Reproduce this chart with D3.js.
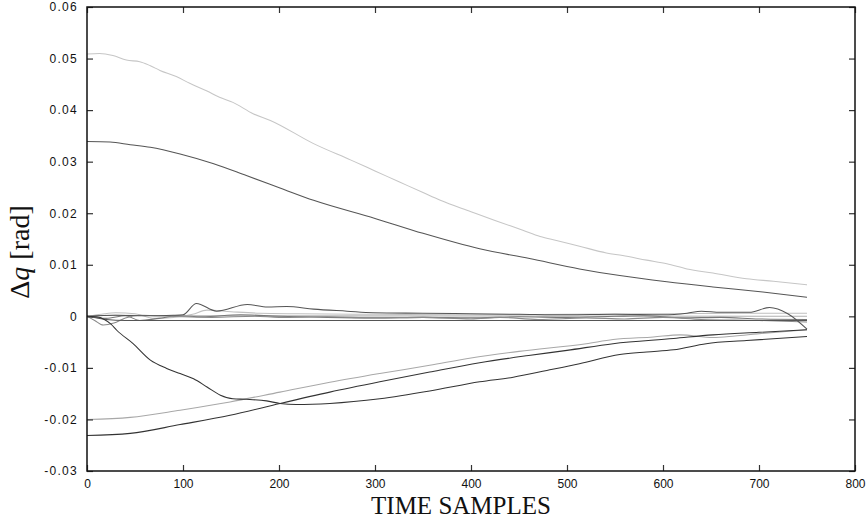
<!DOCTYPE html>
<html>
<head>
<meta charset="utf-8">
<script src="https://cdn.jsdelivr.net/npm/d3@7"></script>
<style>
  html, body { margin: 0; padding: 0; background: #fff; }
  svg { display: block; }
</style>
</head>
<body>
<svg id="chart" width="868" height="521"></svg>
<script>
// ---- data (sample index, joint error in rad) ----
const xTicks = [0, 100, 200, 300, 400, 500, 600, 700, 800];
const yTicks = [-0.03, -0.02, -0.01, 0, 0.01, 0.02, 0.03, 0.04, 0.05, 0.06];

const lightTop = [[0,0.0509],[13,0.0510],[27,0.0506],[41,0.0497],[55,0.0494],[66,0.0486],[76,0.0477],[93,0.0465],[107,0.0452],[125,0.0437],[138,0.0425],[152,0.0415],[173,0.0393],[191,0.0380],[236,0.0335],[275,0.0303],[300,0.0282],[325,0.0261],[350,0.0240],[368,0.0225],[400,0.0203],[425,0.0186],[454,0.0167],[472,0.0155],[489,0.0147],[513,0.0136],[541,0.0123],[558,0.0118],[583,0.0109],[604,0.0102],[625,0.0092],[652,0.0084],[687,0.0073],[715,0.0068],[750,0.0061]];
const darkTop = [[0,0.0339],[24,0.0338],[45,0.0333],[66,0.0328],[97,0.0315],[132,0.0296],[166,0.0273],[201,0.0249],[236,0.0225],[300,0.0190],[350,0.0161],[409,0.0131],[461,0.0112],[513,0.0092],[555,0.0079],[604,0.0067],[652,0.0057],[704,0.0047],[750,0.0037]];
const lightBottom = [[0,-0.0200],[45,-0.0196],[97,-0.0182],[149,-0.0166],[201,-0.0147],[253,-0.0128],[305,-0.0111],[357,-0.0095],[400,-0.0081],[450,-0.0068],[520,-0.0053],[548,-0.0045],[590,-0.0040],[618,-0.0036],[652,-0.0041],[675,-0.0038],[698,-0.0034],[750,-0.0026]];
const darkBottom = [[0,-0.0231],[45,-0.0227],[97,-0.0210],[149,-0.0192],[201,-0.0169],[253,-0.0147],[305,-0.0127],[357,-0.0108],[409,-0.0090],[460,-0.0076],[500,-0.0066],[548,-0.0053],[611,-0.0043],[652,-0.0036],[700,-0.0031],[750,-0.0026]];
const plunge = [[0,0],[10,-0.0001],[18,-0.0006],[25,-0.0015],[31,-0.0027],[48,-0.0053],[66,-0.0085],[83,-0.0101],[97,-0.0111],[111,-0.0121],[125,-0.0137],[139,-0.0153],[152,-0.0160],[166,-0.0161],[187,-0.0164],[201,-0.0169],[218,-0.0171],[253,-0.0169],[305,-0.0160],[357,-0.0145],[409,-0.0127],[444,-0.0118],[479,-0.0105],[513,-0.0092],[555,-0.0074],[583,-0.0069],[611,-0.0065],[645,-0.0053],[687,-0.0047],[750,-0.0039]];
const z1 = [[0,0],[30,0.0002],[60,0.0001],[90,0.0002],[100,0.0003],[114,0.0025],[135,0.0010],[167,0.0023],[188,0.0018],[208,0.0019],[236,0.0014],[271,0.0010],[298,0.0007],[350,0.0006],[400,0.0005],[450,0.0004],[500,0.0003],[550,0.0004],[600,0.0003],[625,0.0006],[640,0.0010],[660,0.0008],[690,0.0008],[711,0.0017],[730,0.0005],[750,-0.0025]];
const z2 = [[0,0],[8,-0.0008],[17,-0.0017],[28,-0.0013],[40,-0.0003],[55,0.0002],[75,0.0001],[100,-0.0001],[130,-0.0002],[175,0],[200,-0.0002],[250,-0.0001],[300,-0.0003],[350,-0.0002],[400,-0.0005],[430,-0.0002],[470,-0.0006],[520,-0.0003],[560,-0.0005],[600,-0.0002],[640,-0.0006],[700,-0.0008],[750,-0.0011]];
const z3 = [[0,0],[15,0.0004],[30,0.0007],[50,0.0005],[70,-0.0004],[90,-0.0002],[110,0.0004],[125,0.0012],[150,0.0009],[180,0.0006],[220,0.0005],[300,0.0004],[400,0.0003],[500,0.0004],[600,0.0005],[700,0.0006],[750,0.0006]];
const z4 = [[0,0],[20,-0.0004],[40,0.0001],[55,-0.0008],[75,-0.0004],[95,0.0001],[120,-0.0001],[160,0.0003],[200,0],[250,-0.0002],[300,-0.0003],[350,-0.0002],[400,-0.0003],[450,-0.0001],[500,-0.0002],[550,0],[580,0.0001],[620,-0.0003],[660,-0.0002],[700,-0.0005],[750,-0.0006]];
const z5 = [[0,0],[20,-0.0006],[40,-0.0008],[750,-0.0008]];
const z6 = [[0,0],[30,0.0002],[100,0.0001],[750,0.0]];

const series = [
  { data: lightTop,    color: "#c6c6c6" },
  { data: lightBottom, color: "#a8a8a8" },
  { data: z6,          color: "#b0b0b0" },
  { data: z3,          color: "#c0c0c0" },
  { data: z4,          color: "#777777" },
  { data: z2,          color: "#8a8a8a" },
  { data: z5,          color: "#555555" },
  { data: z1,          color: "#555555" },
  { data: darkTop,     color: "#555555" },
  { data: darkBottom,  color: "#333333" },
  { data: plunge,      color: "#333333" }
];

// ---- layout ----
const W = 868, H = 521;
const m = { left: 87, right: 13, top: 7, bottom: 50 };
const svg = d3.select("#chart");
const x = d3.scaleLinear().domain([0, 800]).range([m.left, W - m.right]);
const y = d3.scaleLinear().domain([-0.03, 0.06]).range([H - m.bottom, m.top]);

const fmtY = d => d === 0 ? "0" : d.toFixed(2);

// lines
const line = d3.line().x(d => x(d[0])).y(d => y(d[1])).curve(d3.curveMonotoneX);
svg.append("g").selectAll("path").data(series).join("path")
  .attr("d", s => line(s.data))
  .attr("fill", "none")
  .attr("stroke", s => s.color)
  .attr("stroke-width", 1.05);

// axes (ticks pointing inward)
const tickFont = "Liberation Sans, Arial, sans-serif";
const gB = svg.append("g").attr("transform", `translate(0,${y(-0.03)})`)
  .call(d3.axisBottom(x).tickValues(xTicks).tickSizeInner(-6).tickSizeOuter(0).tickPadding(8).tickFormat(d3.format("d")));
const gL = svg.append("g").attr("transform", `translate(${x(0)},0)`)
  .call(d3.axisLeft(y).tickValues(yTicks).tickSizeInner(-6).tickSizeOuter(0).tickPadding(9).tickFormat(fmtY));
const gT = svg.append("g").attr("transform", `translate(0,${y(0.06)})`)
  .call(d3.axisTop(x).tickValues(xTicks).tickSizeInner(-6).tickSizeOuter(0).tickFormat(""));
const gR = svg.append("g").attr("transform", `translate(${x(800)},0)`)
  .call(d3.axisRight(y).tickValues(yTicks).tickSizeInner(-6).tickSizeOuter(0).tickFormat(""));

[gB, gL, gT, gR].forEach(g => {
  g.select(".domain").remove();
  g.selectAll(".tick line").attr("stroke", "#333").attr("stroke-width", 1.2);
  g.selectAll(".tick text").attr("fill", "#111").style("font-family", tickFont).style("font-size", "12px");
});
gL.selectAll(".tick text").style("letter-spacing", "1.3px");

// frame
svg.append("rect")
  .attr("x", x(0)).attr("y", y(0.06))
  .attr("width", x(800) - x(0)).attr("height", y(-0.03) - y(0.06))
  .attr("fill", "none").attr("stroke", "#111").attr("stroke-width", 1.5);

// titles
svg.append("text")
  .attr("x", (x(0) + x(800)) / 2 - 10).attr("y", 514)
  .attr("text-anchor", "middle")
  .style("font-family", "Liberation Serif, Times New Roman, serif")
  .style("font-size", "25px")
  .attr("fill", "#111")
  .text("TIME SAMPLES");

const yt = svg.append("text")
  .attr("transform", `translate(29,252) rotate(-90)`)
  .attr("text-anchor", "middle")
  .style("font-family", "Liberation Serif, Times New Roman, serif")
  .style("font-size", "28px")
  .attr("fill", "#111");
yt.append("tspan").text("Δ");
yt.append("tspan").style("font-style", "italic").text("q");
yt.append("tspan").text(" [rad]");
</script>
</body>
</html>
